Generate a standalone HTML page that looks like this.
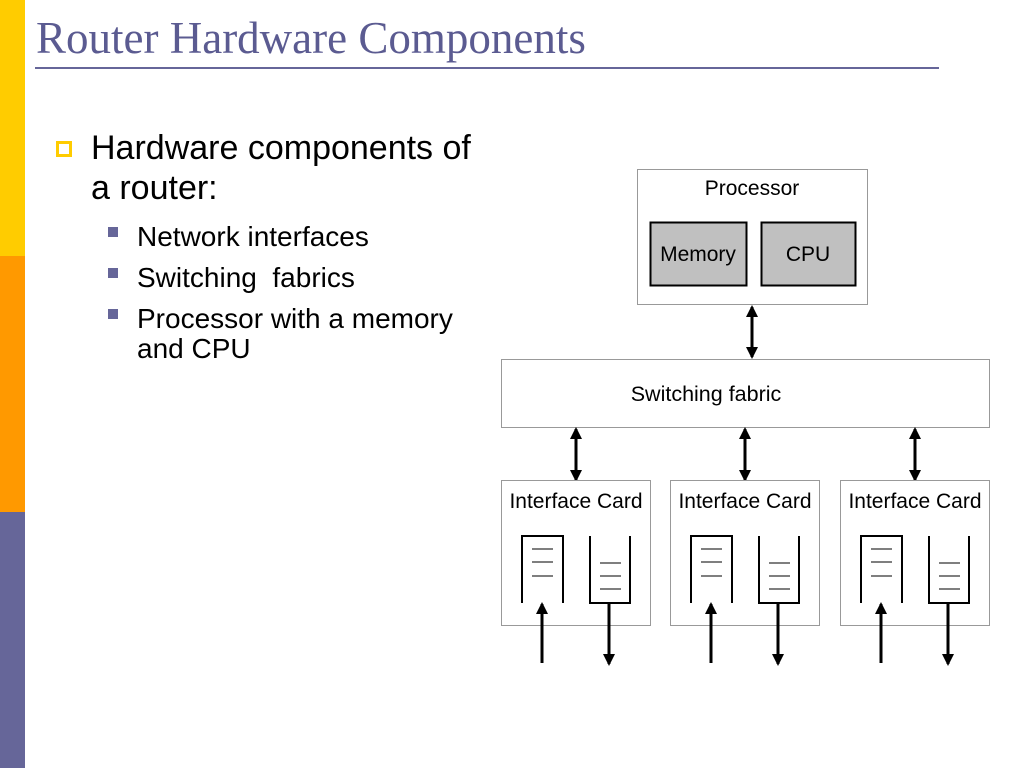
<!DOCTYPE html>
<html><head><style>
body{margin:0;width:1024px;height:768px;background:#fff;position:relative;overflow:hidden;font-family:"Liberation Sans",sans-serif}
.t{position:absolute;left:36px;top:10px;font-family:"Liberation Serif",serif;font-size:45px;line-height:56px;color:#5b5b91;white-space:nowrap}
.b{position:absolute;color:#000;white-space:nowrap}
</style></head><body>
<div style="position:absolute;left:0;top:0;width:25px;height:256px;background:#ffcc00"></div>
<div style="position:absolute;left:0;top:256px;width:25px;height:256px;background:#ff9900"></div>
<div style="position:absolute;left:0;top:512px;width:25px;height:256px;background:#666699"></div>
<div class="t">Router Hardware Components</div>
<div style="position:absolute;left:35px;top:67px;width:904px;height:2px;background:#666699"></div>
<div style="position:absolute;left:56px;top:141px;width:10px;height:10px;border:3px solid #ffcc00"></div>
<div class="b" style="left:91px;top:128px;font-size:34px;line-height:40px">Hardware components of<br>a router:</div>
<div style="position:absolute;left:108px;top:227px;width:10px;height:10px;background:#666699"></div>
<div style="position:absolute;left:108px;top:268px;width:10px;height:10px;background:#666699"></div>
<div style="position:absolute;left:108px;top:309px;width:10px;height:10px;background:#666699"></div>
<div class="b" style="left:137px;top:216px;font-size:28px;line-height:41px">Network interfaces<br>Switching&nbsp; fabrics<br>Processor with a memory</div>
<div class="b" style="left:137px;top:334px;font-size:28px;line-height:30px">and CPU</div>
<svg width="1024" height="768" style="position:absolute;left:0;top:0" font-family="Liberation Sans, sans-serif">
<defs><marker id="s" markerWidth="12" markerHeight="12" refX="10" refY="6" orient="auto-start-reverse" markerUnits="userSpaceOnUse"><path d="M0,0 L12,6 L0,12 z" fill="#000"/></marker></defs>
<rect x="637.5" y="169.5" width="230" height="135" fill="#fff" stroke="#999"/>
<text x="752" y="195" font-size="21" text-anchor="middle">Processor</text>
<rect x="650.5" y="222.5" width="96" height="63" fill="#c0c0c0" stroke="#000" stroke-width="2"/>
<rect x="761.5" y="222.5" width="94" height="63" fill="#c0c0c0" stroke="#000" stroke-width="2"/>
<text x="698" y="261" font-size="21" text-anchor="middle">Memory</text>
<text x="808" y="261" font-size="21" text-anchor="middle">CPU</text>
<line x1="752" y1="307" x2="752" y2="357" stroke="#000" stroke-width="3" marker-start="url(#s)" marker-end="url(#s)"/>
<rect x="501.5" y="359.5" width="488" height="68" fill="#fff" stroke="#999"/>
<text x="706" y="401" font-size="21.5" text-anchor="middle">Switching fabric</text>
<g id="c">
<line x1="576" y1="429" x2="576" y2="480" stroke="#000" stroke-width="3" marker-start="url(#s)" marker-end="url(#s)"/>
<rect x="501.5" y="480.5" width="149" height="145" fill="#fff" stroke="#999"/>
<text x="576" y="508" font-size="21" text-anchor="middle">Interface Card</text>
<path d="M522,603 V536 H563 V603" fill="none" stroke="#000" stroke-width="2"/>
<path d="M532,549 H553 M532,562 H553 M532,576 H553" stroke="#333" stroke-width="1.2"/>
<path d="M590,536 V603 H630 V536" fill="none" stroke="#000" stroke-width="2"/>
<path d="M600,563 H621 M600,576 H621 M600,589 H621" stroke="#333" stroke-width="1.2"/>
<line x1="542" y1="663" x2="542" y2="604" stroke="#000" stroke-width="3" marker-end="url(#s)"/>
<line x1="609" y1="603" x2="609" y2="664" stroke="#000" stroke-width="3" marker-end="url(#s)"/>
</g>
<use href="#c" x="169"/>
<use href="#c" x="339"/>
</svg>
</body></html>
